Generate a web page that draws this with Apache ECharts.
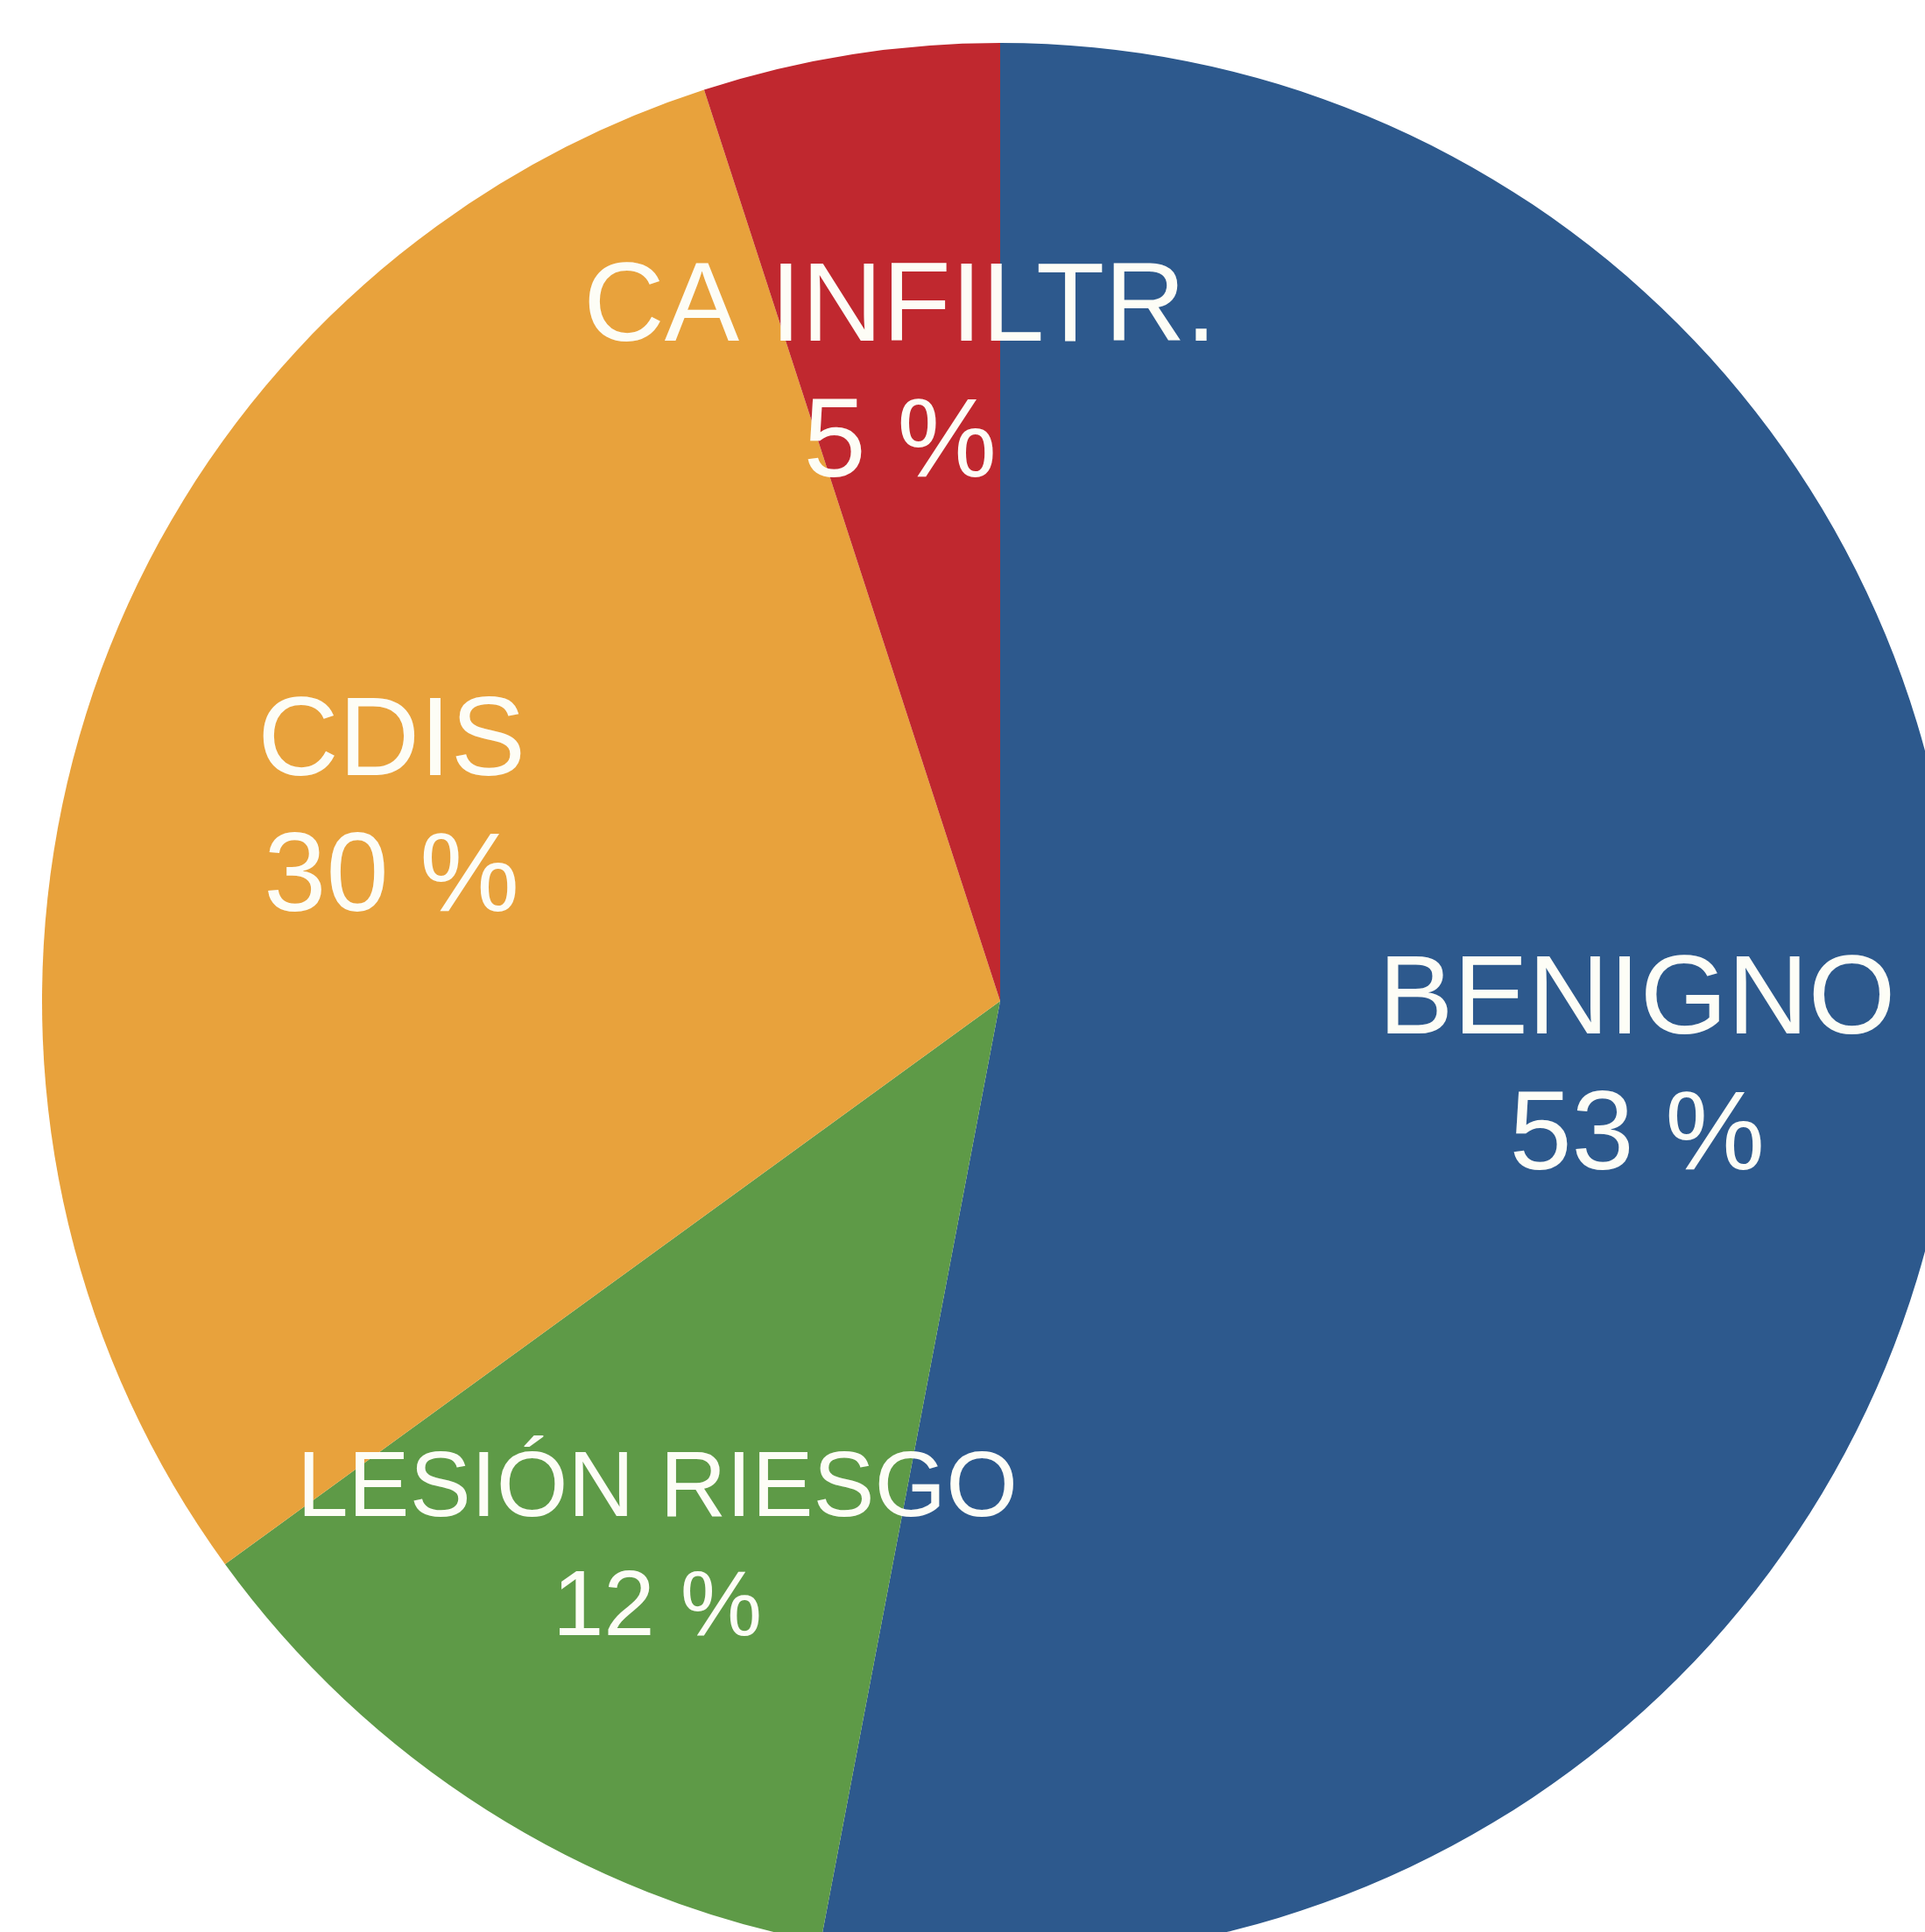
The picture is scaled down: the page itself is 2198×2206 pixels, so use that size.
<!DOCTYPE html>
<html>
<head>
<meta charset="utf-8">
<style>
  html, body { margin: 0; padding: 0; background: #ffffff; }
  #chart { width: 2198px; height: 2206px; }
</style>
<script src="https://cdn.jsdelivr.net/npm/echarts@6/dist/echarts.min.js"></script>
</head>
<body>
<div id="chart"></div>
<script>
// Distribution of biopsy results (percent)
const categories = ['BENIGNO', 'LESIÓN RIESGO', 'CDIS', 'CA INFILTR.'];
const values = [53, 12, 30, 5];
const colors = ['#2D598D', '#5E9A47', '#E8A23C', '#C0282F'];

const chart = echarts.init(document.getElementById('chart'), null, { renderer: 'canvas' });

const CX = 1142, CY = 1143, R = 1094;

const pieData = categories.map((name, i) => ({
  name: name,
  value: values[i],
  itemStyle: { color: colors[i] }
}));

// Label carrier ring: labels sit at (r + r0) / 2, i.e. about two thirds of the radius
const labelData = categories.map((name, i) => {
  const small = name === 'LESIÓN RIESGO';
  return {
    name: name,
    value: values[i],
    label: small ? { fontSize: 105, lineHeight: 136 } : {}
  };
});

chart.setOption({
  backgroundColor: '#ffffff',
  animation: false,
  series: [
    {
      type: 'pie',
      center: [CX, CY],
      radius: [0, R],
      startAngle: 90,
      clockwise: true,
      silent: true,
      label: { show: false },
      labelLine: { show: false },
      itemStyle: { borderWidth: 0 },
      data: pieData
    },
    {
      type: 'pie',
      center: [CX, CY],
      radius: [R * 0.33, R],
      startAngle: 90,
      clockwise: true,
      silent: true,
      itemStyle: { color: 'rgba(0,0,0,0)', borderWidth: 0 },
      labelLine: { show: false },
      label: {
        show: true,
        position: 'inside',
        formatter: '{b}\n{c} %',
        color: '#FDFDF6',
        fontFamily: 'Liberation Sans, Arial, Helvetica, sans-serif',
        fontSize: 128,
        lineHeight: 155,
        align: 'center',
        offset: [0, 10]
      },
      data: labelData
    }
  ]
});
</script>
</body>
</html>
